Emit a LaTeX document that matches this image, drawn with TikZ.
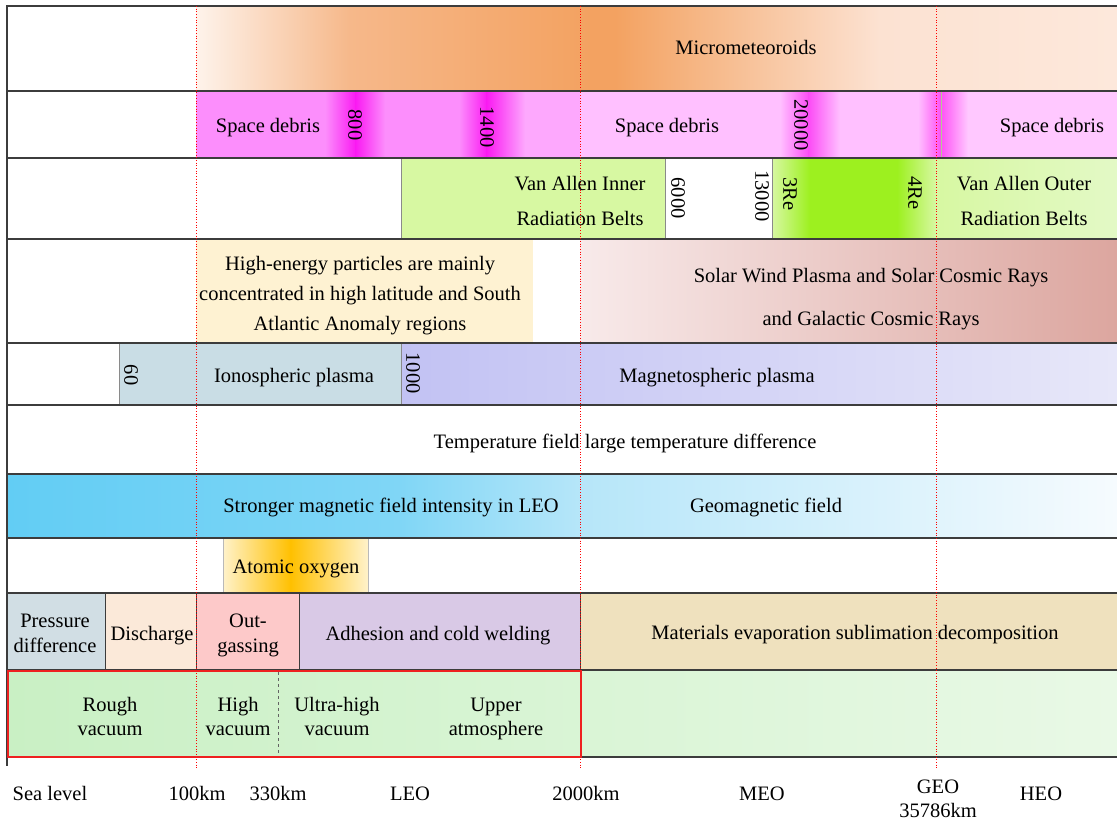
\documentclass[tikz,border=0pt]{standalone}
\usepackage{fontspec}
\setmainfont{Liberation Serif}
\definecolor{gline}{HTML}{3C3C3C}
\definecolor{thin}{HTML}{8A8A8A}
\definecolor{orL}{HTML}{FEF3EB}
\definecolor{orM}{HTML}{F6B88A}
\definecolor{orD}{HTML}{F3A261}
\definecolor{orP}{HTML}{FCE2D2}
\definecolor{orQ}{HTML}{FDE8DB}
\definecolor{mag}{HTML}{FC8EFC}
\definecolor{magD}{HTML}{FA1AF2}
\definecolor{magM}{HTML}{FDA8FD}
\definecolor{pkL}{HTML}{FFC0FF}
\definecolor{pkD}{HTML}{FE50F6}
\definecolor{pkR}{HTML}{FFC8FF}
\definecolor{grL}{HTML}{D7F8A2}
\definecolor{grB}{HTML}{9DF01F}
\definecolor{grR}{HTML}{E3F9C6}
\definecolor{yeL}{HTML}{FEF2D2}
\definecolor{roL}{HTML}{F8EAEA}
\definecolor{roD}{HTML}{DCA69F}
\definecolor{gbl}{HTML}{C9DDE5}
\definecolor{lav}{HTML}{C2C2F3}
\definecolor{lavL}{HTML}{E7E7F9}
\definecolor{blA}{HTML}{62CDF4}
\definecolor{blB}{HTML}{80D6F6}
\definecolor{blC}{HTML}{B6E6F9}
\definecolor{blD}{HTML}{F6FBFE}
\definecolor{gold}{HTML}{FFC000}
\definecolor{goldL}{HTML}{FFF2CA}
\definecolor{prs}{HTML}{D1DEE4}
\definecolor{dis}{HTML}{FBE9D9}
\definecolor{outg}{HTML}{FDC9C9}
\definecolor{adh}{HTML}{D9C9E6}
\definecolor{mat}{HTML}{EFE1BE}
\definecolor{vacL}{HTML}{C9F0C4}
\definecolor{vacR}{HTML}{E9F9E6}
\definecolor{redl}{HTML}{EE2020}
\begin{document}
\begin{tikzpicture}[x=1pt,y=-1pt,
  lbl/.style={font=\fontsize{20.5}{25}\selectfont, inner sep=0pt, anchor=base, align=center},
  rot/.style={font=\fontsize{20.5}{25}\selectfont, inner sep=0pt, anchor=center, rotate=-90},
  rowline/.style={draw=gline, line width=1.5pt},
  sepline/.style={draw=thin, line width=0.8pt},
  guide/.style={draw=red, dotted, line width=0.7pt},
]
\useasboundingbox (0,0) rectangle (1117,823);
\fill[white] (0,0) rectangle (1117,823);
% Row 1 micrometeoroids
\shade[left color=orL, right color=orM] (196,6) rectangle (350,91);
\shade[left color=orM, right color=orD] (350,6) rectangle (590,91);
\fill[orD] (589.5,6) rectangle (615.5,91);
\shade[left color=orD, right color=orP] (615,6) rectangle (880,91);
\shade[left color=orP, right color=orQ] (880,6) rectangle (1117,91);
% Row 2 space debris
\fill[mag] (196,91) rectangle (325.5,158);
\shade[left color=mag, right color=magD] (325,91) rectangle (356,158);
\shade[left color=magD, right color=mag] (355.5,91) rectangle (385,158);
\fill[mag] (384.5,91) rectangle (459.5,158);
\shade[left color=mag, right color=magD] (459,91) rectangle (487,158);
\shade[left color=magD, right color=magM] (486.5,91) rectangle (525,158);
\fill[magM] (524.5,91) rectangle (580,158);
\fill[pkL] (580,91) rectangle (780.5,158);
\shade[left color=pkL, right color=magD!70!pkL] (780,91) rectangle (809,158);
\shade[left color=magD!70!pkL, right color=pkL] (808.5,91) rectangle (840,158);
\fill[pkL] (839.5,91) rectangle (918.5,158);
\shade[left color=pkL, right color=pkD] (918,91) rectangle (941,158);
\shade[left color=pkD, right color=pkR] (940.5,91) rectangle (968,158);
\fill[pkR] (967.5,91) rectangle (1117,158);
\draw[draw=grL!60!gray, line width=0.5pt] (941,91) -- (941,158);
% Row 3 Van Allen belts
\fill[grL] (401,158) rectangle (665,239);
\shade[left color=grL, right color=grB] (772,158) rectangle (810,239);
\fill[grB] (809.5,158) rectangle (897.5,239);
\shade[left color=grB, right color=grL] (897,158) rectangle (936,239);
\shade[left color=grL, right color=grR] (936,158) rectangle (1117,239);
\draw[sepline] (401,158) -- (401,239);
\draw[sepline] (665,158) -- (665,239);
\draw[sepline] (772,158) -- (772,239);
% Row 4 particles
\fill[yeL] (196,239) rectangle (533,343);
\shade[left color=roL, right color=roD] (580,239) rectangle (1117,343);
% Row 5 plasma
\fill[gbl] (119,343) rectangle (401,405);
\shade[left color=lav, right color=lavL] (401,343) rectangle (1117,405);
\draw[sepline] (119,343) -- (119,405);
\draw[sepline] (401,343) -- (401,405);
% Row 7 magnetic field
\shade[left color=blA, right color=blB] (7,474) rectangle (400,538);
\shade[left color=blB, right color=blC] (399.5,474) rectangle (580,538);
\shade[left color=blC, right color=blD] (579.5,474) rectangle (1117,538);
% Row 8 atomic oxygen
\shade[left color=goldL, right color=gold] (223,538) rectangle (291,593);
\shade[left color=gold, right color=goldL] (290.5,538) rectangle (368,593);
\draw[draw=thin!60, line width=0.8pt] (223,538) -- (223,593) (368,538) -- (368,593);
% Row 9 effects
\fill[prs] (7,593) rectangle (105,670);
\fill[dis] (105,593) rectangle (196,670);
\fill[outg] (196,593) rectangle (299,670);
\fill[adh] (299,593) rectangle (580,670);
\fill[mat] (580,593) rectangle (1117,670);
\draw[sepline, draw=gline] (105,593) -- (105,670);
\draw[sepline, draw=gline] (196,593) -- (196,670);
\draw[sepline, draw=gline] (299,593) -- (299,670);
\draw[sepline, draw=gline] (580,593) -- (580,670);
% Row 10 vacuum
\shade[left color=vacL, right color=vacR] (7,670) rectangle (1117,757);
\draw[gline!80, dashed, line width=0.9pt] (278,672) -- (278,756);
% row lines
\foreach \yy in {6,91,158,239,343,405,474,538,593,670,757}
  \draw[rowline] (7,\yy) -- (1117,\yy);
\draw[gline, line width=2pt] (7,5) -- (7,766);
% guides
\foreach \xx in {196,580,936}
  \draw[guide] (\xx,6) -- (\xx,768);
% red vacuum box
\draw[redl, line width=2pt] (8,671) rectangle (581,757);
% texts
\node[lbl] (micro) at (746,54) {Micrometeoroids};
\node[lbl] (sd1) at (268,132) {Space debris};
\node[rot] (n800) at (355,125) {800};
\node[rot] (n1400) at (487,127) {1400};
\node[lbl] (sd2) at (667,132) {Space debris};
\node[rot] (n20000) at (801,125) {20000};
\node[lbl] (sd3) at (1052,132) {Space debris};
\node[lbl, font=\fontsize{20.5}{35}\selectfont] (vain) at (580,225) {Van Allen Inner\\Radiation Belts};
\node[rot] (n6000) at (678,198) {6000};
\node[rot] (n13000) at (762,196) {13000};
\node[rot] (n3re) at (790,194) {3Re};
\node[rot] (n4re) at (915,193) {4Re};
\node[lbl, font=\fontsize{20.5}{35}\selectfont] (vaout) at (1024,225) {Van Allen Outer\\Radiation Belts};
\node[lbl, font=\fontsize{20.5}{30}\selectfont] (hep) at (360,330) {High-energy particles are mainly\\concentrated in high latitude and South\\Atlantic Anomaly regions};
\node[lbl, font=\fontsize{20.5}{43}\selectfont] (solar) at (871,325) {Solar Wind Plasma and Solar Cosmic Rays\\and Galactic Cosmic Rays};
\node[rot] (n60) at (131,375) {60};
\node[lbl] (iono) at (294,382) {Ionospheric plasma};
\node[rot] (n1000) at (413,373) {1000};
\node[lbl] (magneto) at (717,382) {Magnetospheric plasma};
\node[lbl] (temp) at (625,448) {Temperature field large temperature difference};
\node[lbl] (strong) at (391,512) {Stronger magnetic field intensity in LEO};
\node[lbl] (geomag) at (766,512) {Geomagnetic field};
\node[lbl] (atomic) at (296,573) {Atomic oxygen};
\node[lbl] (press) at (55,652) {Pressure\\difference};
\node[lbl] (disch) at (152,640) {Discharge};
\node[lbl] (outgas) at (248,652) {Out-\\gassing};
\node[lbl] (adhes) at (438,640) {Adhesion and cold welding};
\node[lbl] (mater) at (855,639) {Materials evaporation sublimation decomposition};
\node[lbl, font=\fontsize{20.5}{24}\selectfont] (rough) at (110,735) {Rough\\vacuum};
\node[lbl, font=\fontsize{20.5}{24}\selectfont] (highv) at (238,735) {High\\vacuum};
\node[lbl, font=\fontsize{20.5}{24}\selectfont] (ultra) at (337,735) {Ultra-high\\vacuum};
\node[lbl, font=\fontsize{20.5}{24}\selectfont] (upper) at (496,735) {Upper\\atmosphere};
\node[lbl] (sea) at (50,800) {Sea level};
\node[lbl] (k100) at (197,800) {100km};
\node[lbl] (k330) at (278,800) {330km};
\node[lbl] (leo) at (410,800) {LEO};
\node[lbl] (k2000) at (586,800) {2000km};
\node[lbl] (meo) at (762,800) {MEO};
\node[lbl, font=\fontsize{20.5}{24}\selectfont] (geo) at (938,817) {GEO\\35786km};
\node[lbl] (heo) at (1041,800) {HEO};
\end{tikzpicture}
\end{document}
